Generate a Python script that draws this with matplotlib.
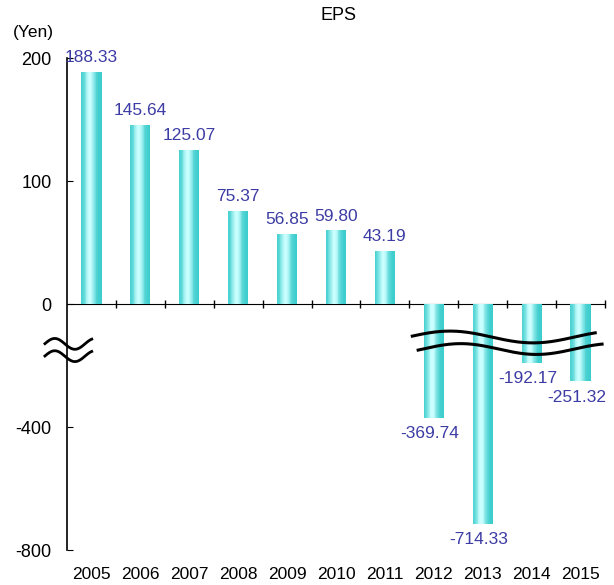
"""EPS per fiscal year, bar chart with a compressed negative axis."""

import numpy as np
import matplotlib

matplotlib.use("Agg")
import matplotlib.pyplot as plt  # noqa: E402
from matplotlib.colors import to_rgb  # noqa: E402
from matplotlib.transforms import blended_transform_factory  # noqa: E402

years = [2005, 2006, 2007, 2008, 2009, 2010, 2011, 2012, 2013, 2014, 2015]
eps = [188.33, 145.64, 125.07, 75.37, 56.85, 59.80, 43.19,
       -369.74, -714.33, -192.17, -251.32]
yticks = [200, 100, 0, -400, -800]

plt.rcParams["font.family"] = ["Liberation Sans", "DejaVu Sans"]
plt.rcParams["axes.unicode_minus"] = False

LABEL_C = "#3c3ca4"
DARK = np.array(to_rgb("#3ccccc"))
LIGHT = np.array(to_rgb("#ccffff"))


def fwd(v):
    v = np.asarray(v, dtype=float)
    return np.where(v >= 0, v, v / 4.0)


def inv(t):
    t = np.asarray(t, dtype=float)
    return np.where(t >= 0, t, t * 4.0)


fig = plt.figure(figsize=(6.14, 5.85), dpi=100)
ax = fig.add_axes([67 / 614, 0.0598, 538 / 614, 0.841])
ax.set_yscale("function", functions=(fwd, inv))

# bars as thin vertical strips to fake the cylinder gradient
x = np.array(years, dtype=float)
w = 0.41
n = 24
for k in range(n):
    t = (k + 0.5) / n
    f = np.exp(-((t - 0.42) / 0.26) ** 2)
    col = DARK + (LIGHT - DARK) * f
    ax.bar(x - w / 2 + t * w, eps, width=w / n * 1.15, color=col,
           linewidth=0, antialiased=False, zorder=2)

for xi, v in zip(years, eps):
    if v >= 0:
        ax.annotate(f"{v:.2f}", (xi, v), xytext=(0, 5), textcoords="offset points",
                    ha="center", va="bottom", fontsize=12.5, color=LABEL_C)
    else:
        ax.annotate(f"{v:.2f}", (xi, v), xytext=(-3, -6), textcoords="offset points",
                    ha="center", va="top", fontsize=12.5, color=LABEL_C)

ax.set_xlim(2004.5, 2015.5)
ax.set_ylim(-800, 200)
ax.set_yticks(yticks)
ax.set_yticklabels([str(v) for v in yticks])
ax.yaxis.set_minor_locator(matplotlib.ticker.NullLocator())
ax.tick_params(axis="y", direction="in", length=4, pad=11, labelsize=13)

ax.set_xticks(years)
ax.set_xticklabels([str(y) for y in years])
ax.tick_params(axis="x", length=0, pad=12, labelsize=12.5)

for s in ("top", "right", "bottom"):
    ax.spines[s].set_visible(False)
ax.spines["left"].set_linewidth(1.2)

# zero line with category separators
zero = ax.secondary_xaxis(0.5)
zero.set_xticks(np.arange(2005.5, 2016, 1.0))
zero.set_xticklabels([])
zero.tick_params(direction="inout", length=6, width=1,
                 labelbottom=False, labeltop=False)
zero.spines["bottom"].set_linewidth(1.2)

# axis break marks
tr = blended_transform_factory(ax.transData, ax.transAxes)
xs = np.linspace(2011.56, 2015.30, 200)
ax.plot(xs, 0.433 + 0.012 * np.cos(2 * np.pi * (xs - 2012.33) / 3.4),
        color="black", lw=2.2, transform=tr, zorder=4)
xs2 = np.linspace(2011.68, 2015.44, 200)
ax.plot(xs2, 0.4085 + 0.011 * np.cos(2 * np.pi * (xs2 - 2012.55) / 3.1),
        color="black", lw=2.2, transform=tr, zorder=4)

tt = np.linspace(0, 1, 100)
tx = -0.041 + tt * 0.087
for yc in (0.419, 0.394):
    ax.plot(tx, yc + 0.011 * np.cos(2 * np.pi * (tt - 0.21) / 0.86),
            color="black", lw=2.0, transform=ax.transAxes, clip_on=False, zorder=4)

fig.text(339 / 614, 1 - 16 / 585, "EPS", ha="center", va="center", fontsize=13)
fig.text(33 / 614, 1 - 33 / 585, "(Yen)", ha="center", va="center", fontsize=12.5)

fig.savefig("out.png", dpi=100)
